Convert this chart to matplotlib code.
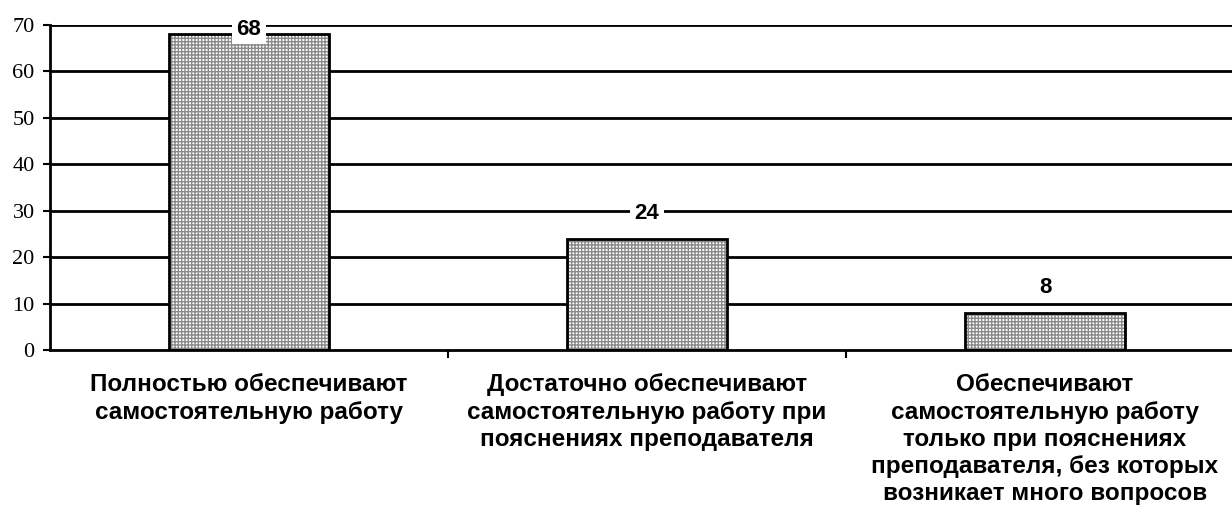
import matplotlib.pyplot as plt
import numpy as np

categories = [
    'Полностью обеспечивают\nсамостоятельную работу',
    'Достаточно обеспечивают\nсамостоятельную работу при\nпояснениях преподавателя',
    'Обеспечивают\nсамостоятельную работу\nтолько при пояснениях\nпреподавателя, без которых\nвозникает много вопросов',
]
values = [68, 24, 8]
yticks = [0, 10, 20, 30, 40, 50, 60, 70]

fig = plt.figure(figsize=(12.32, 5.32), dpi=100)
ax = fig.add_axes([50 / 1232, 1 - 350 / 532, 1 - 50 / 1232, 325 / 532])

x = np.arange(len(values))

# gridlines behind the bars
for t in yticks[1:]:
    ax.axhline(t, color='black', lw=2, zorder=1)

# hatched fill, then a plain black outline on top
ax.bar(x, values, width=0.4, color='white', edgecolor='#8a8a8a',
       hatch='+++++', lw=0, zorder=2)
ax.bar(x, values, width=0.4, fill=False, edgecolor='black', lw=2, zorder=3)

for xi, v in zip(x, values):
    ax.text(xi, min(v + 5.5, 69.0), str(v), ha='center', va='center',
            fontsize=16, fontweight='bold', family='Liberation Sans',
            bbox=dict(facecolor='white', edgecolor='none', pad=3), zorder=4)

ax.set_xlim(-0.5, 2.47)
ax.set_ylim(0, 70)
ax.set_yticks(yticks)
ax.set_yticklabels([str(t) for t in yticks], family='Liberation Serif', fontsize=16)
ax.tick_params(axis='y', direction='out', length=5, width=1.5, pad=6)

# category boundaries as ticks below the axis
ax.set_xticks([0.5, 1.5])
ax.set_xticklabels(['', ''])
ax.tick_params(axis='x', direction='out', length=6, width=1.5)
for xi, lab in zip(x, categories):
    ax.text(xi, -5.0, lab, ha='center', va='top', fontsize=17.5, fontweight='bold',
            family='Liberation Sans', linespacing=1.24, clip_on=False)

for s in ['top', 'right']:
    ax.spines[s].set_visible(False)
ax.spines['left'].set_linewidth(2)
ax.spines['bottom'].set_linewidth(2)

plt.savefig('out.png', dpi=100)
